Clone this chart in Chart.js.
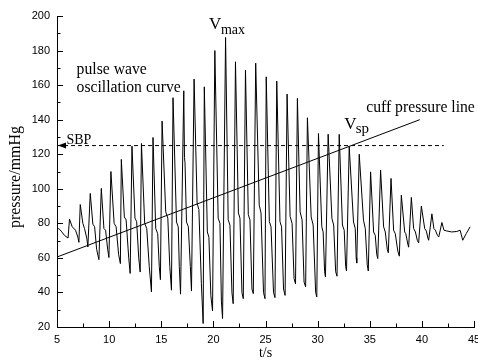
<!DOCTYPE html>
<html lang="en">
<head>
<meta charset="UTF-8">
<title>Pulse wave oscillation curve</title>
<script src="https://cdn.jsdelivr.net/npm/chart.js"></script>
<style>
    * { margin: 0; padding: 0; box-sizing: border-box; }
    html, body { width: 478px; height: 360px; overflow: hidden; background: #fff; }
    .chart-box { position: relative; width: 482px; height: 360px; }
</style>
</head>
<body>
<div class="chart-box"><canvas id="bpChart"></canvas></div>
<script>
// pulse wave oscillation curve (t in s, pressure in mmHg)
const pulseT = [
    5.00, 5.17, 5.40, 5.72, 6.06,
    6.20, 6.46, 6.78, 7.00, 7.10,
    7.23, 7.48, 7.64, 7.87, 7.96,
    8.19, 8.44, 8.61, 8.80, 9.02,
    9.25, 9.50, 9.66, 9.86, 9.98,
    10.17, 10.48, 10.67, 10.91, 11.08,
    11.17, 11.46, 11.63, 11.88, 12.02,
    12.19, 12.48, 12.64, 12.84, 12.98,
    13.10, 13.41, 13.61, 13.85, 14.06,
    14.21, 14.47, 14.66, 14.81, 14.92,
    15.08, 15.43, 15.63, 15.82, 15.98,
    16.13, 16.46, 16.63, 16.73, 16.85,
    17.16, 17.23, 17.28, 17.42, 17.60, 17.79, 17.90,
    18.15, 18.44, 18.61, 18.85, 19.02,
    19.13, 19.42, 19.57, 19.76, 19.92,
    20.14, 20.46, 20.63, 20.77, 20.88,
    21.17, 21.42, 21.59, 21.78, 21.90,
    22.12, 22.40, 22.55, 22.74, 22.87,
    23.08, 23.35, 23.51, 23.70, 23.83,
    24.06, 24.40, 24.57, 24.81, 24.95,
    25.07, 25.37, 25.53, 25.77, 25.91,
    26.08, 26.39, 26.54, 26.73, 26.88,
    27.07, 27.36, 27.55, 27.74, 27.88,
    28.06, 28.32, 28.51, 28.70, 28.85,
    29.02, 29.38, 29.57, 29.81, 29.92,
    30.08, 30.40, 30.53, 30.67, 30.75,
    31.01, 31.37, 31.54, 31.73, 31.86,
    32.07, 32.38, 32.55, 32.69, 32.77,
    33.03, 33.44, 33.61, 33.70, 33.75,
    33.99, 34.40, 34.57, 34.76, 34.86,
    35.08, 35.37, 35.53, 35.67, 35.77,
    36.04, 36.33, 36.49, 36.68, 36.78,
    37.04, 37.29, 37.45, 37.69, 37.84,
    38.03, 38.35, 38.46, 38.65, 38.73,
    38.99, 39.21, 39.38, 39.57, 39.69,
    39.95, 40.27, 40.43, 40.58, 40.65,
    40.96, 41.15, 41.30, 41.49, 41.62,
    41.92, 42.12, 42.38, 42.87, 43.35, 43.67, 43.92, 44.25, 44.63
];
const pulseP = [
    76.4, 77, 75.5, 73, 71.5,
    82.4, 78, 76, 72, 69,
    90.9, 80, 77, 71, 66.3,
    97.3, 79.5, 78, 65, 59,
    100.2, 77, 76, 65, 60.2,
    110, 80, 78, 62, 56.7,
    117, 83.7, 82, 60, 51,
    124.7, 83, 81, 60, 51.8,
    126.2, 80, 77, 55, 40.3,
    129.7, 77, 74, 55, 47.4,
    139.2, 86.6, 83, 55, 41.3,
    152.7, 80.8, 78, 55, 39,
    156.7, 118, 115, 80.8, 78, 55, 40.8,
    163.5, 91.5, 88, 45, 22,
    159, 75, 72, 38, 29.3,
    180, 83, 80, 35, 24.9,
    187.6, 82, 79, 40, 33.5,
    173.5, 86, 83, 40, 36.4,
    168.7, 85, 82, 42, 39.3,
    172.7, 90.5, 86, 40, 36.4,
    164.8, 81, 78, 40, 37,
    162.3, 81, 78, 42, 38.3,
    154.8, 84, 80, 48, 45,
    152.3, 86.6, 82, 46, 43.2,
    141.1, 83.7, 79, 40, 37.4,
    132, 78, 75, 52, 49,
    131.6, 82.8, 79, 52, 49.4,
    131.5, 79, 76, 55, 52.4,
    124.5, 80.8, 77, 60, 57,
    120, 81.8, 77, 56, 52.4,
    109.8, 75, 73, 62, 59.6,
    110.8, 78, 75, 65, 63,
    106, 76, 74, 64, 61,
    96.3, 75, 74, 68, 66.2,
    95, 77, 75, 70, 68.7,
    90, 77, 75.5, 71.5, 70.2,
    85.5, 77, 76, 73, 72.1,
    80.5, 76, 75.6, 75, 75.3, 76, 70.2, 74, 78
];

// cuff pressure line and SBP level
const cuffT = [5, 39.8];
const cuffP = [60.5, 140];
const sbpT = [5, 42.1];
const sbpP = [125, 125];

// axis ticks
const xTicks = [5, 10, 15, 20, 25, 30, 35, 40, 45];
const yTicks = [20, 40, 60, 80, 100, 120, 140, 160, 180, 200];

const serif = "'Liberation Serif', 'Times New Roman', serif";
const sans = "'Liberation Sans', Arial, sans-serif";

function toPoints(xs, ys) {
    return xs.map((v, i) => ({ x: v, y: ys[i] }));
}

// inward major/minor ticks, arrow, y title and text labels
const decorPlugin = {
    id: 'decor',
    afterDraw(chart) {
        const { ctx, chartArea, scales: { x, y } } = chart;
        ctx.save();
        ctx.strokeStyle = '#000';
        ctx.fillStyle = '#000';
        ctx.lineWidth = 1;

        ctx.beginPath();
        for (let i = 0; i < xTicks.length; i++) {
            const px = Math.round(x.getPixelForValue(xTicks[i])) + 0.5;
            ctx.moveTo(px, chartArea.bottom);
            ctx.lineTo(px, chartArea.bottom - 6);
            if (i < xTicks.length - 1) {
                const mx = Math.round(x.getPixelForValue((xTicks[i] + xTicks[i + 1]) / 2)) + 0.5;
                ctx.moveTo(mx, chartArea.bottom);
                ctx.lineTo(mx, chartArea.bottom - 3.5);
            }
        }
        for (let i = 0; i < yTicks.length; i++) {
            const py = Math.round(y.getPixelForValue(yTicks[i])) + 0.5;
            ctx.moveTo(chartArea.left, py);
            ctx.lineTo(chartArea.left + 6, py);
            if (i < yTicks.length - 1) {
                const my = Math.round(y.getPixelForValue((yTicks[i] + yTicks[i + 1]) / 2)) + 0.5;
                ctx.moveTo(chartArea.left, my);
                ctx.lineTo(chartArea.left + 3.5, my);
            }
        }
        ctx.stroke();

        // SBP arrow head
        const ax = chartArea.left + 1;
        const ay = y.getPixelForValue(sbpP[0]);
        ctx.beginPath();
        ctx.moveTo(ax, ay);
        ctx.lineTo(ax + 8, ay - 3);
        ctx.lineTo(ax + 8, ay + 3);
        ctx.closePath();
        ctx.fill();

        // y axis title
        ctx.save();
        ctx.translate(16, 177);
        ctx.rotate(-Math.PI / 2);
        ctx.font = '16px ' + serif;
        ctx.textAlign = 'center';
        ctx.textBaseline = 'middle';
        ctx.fillText('pressure/mmHg', 0, 0);
        ctx.restore();

        const text = (str, t, p, size) => {
            ctx.font = size + 'px ' + serif;
            ctx.textAlign = 'left';
            ctx.textBaseline = 'alphabetic';
            ctx.fillText(str, x.getPixelForValue(t), y.getPixelForValue(p));
        };
        text('pulse wave', 6.88, 166.4, 15.7);
        text('oscillation curve', 6.88, 156, 15.7);
        text('SBP', 5.91, 126.1, 14);
        text('V', 19.57, 192.5, 17);
        text('max', 20.72, 189.3, 14);
        text('V', 32.55, 134.8, 17);
        text('sp', 33.65, 132.2, 15);
        text('cuff pressure line', 34.66, 144.4, 15.7);
        ctx.restore();
    }
};

new Chart(document.getElementById('bpChart'), {
    type: 'line',
    data: {
        datasets: [
            {
                label: 'pulse wave oscillation curve',
                data: toPoints(pulseT, pulseP),
                borderColor: '#000',
                borderWidth: 1,
                pointRadius: 0,
                tension: 0
            },
            {
                label: 'cuff pressure line',
                data: toPoints(cuffT, cuffP),
                borderColor: '#000',
                borderWidth: 1,
                pointRadius: 0
            },
            {
                label: 'SBP',
                data: toPoints(sbpT, sbpP),
                borderColor: '#000',
                borderWidth: 1,
                borderDash: [4, 3],
                pointRadius: 0
            }
        ]
    },
    options: {
        responsive: true,
        maintainAspectRatio: false,
        animation: false,
        layout: { padding: { top: 16, right: 8, left: 0, bottom: 0 } },
        plugins: {
            legend: { display: false },
            tooltip: { enabled: false }
        },
        scales: {
            x: {
                type: 'linear',
                min: 5,
                max: 45,
                afterBuildTicks: s => { s.ticks = xTicks.map(v => ({ value: v })); },
                afterFit: s => { s.height = 33; s.paddingLeft = 0; s.paddingRight = 0; },
                ticks: { color: '#000', font: { family: sans, size: 11 }, padding: 6, maxRotation: 0 },
                grid: { drawOnChartArea: false, drawTicks: false },
                border: { color: '#000', width: 1 },
                title: {
                    display: true,
                    text: 't/s',
                    color: '#000',
                    font: { family: serif, size: 14, lineHeight: 1 },
                    padding: { top: 0, bottom: 0 }
                }
            },
            y: {
                min: 20,
                max: 200,
                afterBuildTicks: s => { s.ticks = yTicks.map(v => ({ value: v })); },
                afterFit: s => { s.width = 57; },
                ticks: { color: '#000', font: { family: sans, size: 11 }, padding: 7 },
                grid: { drawOnChartArea: false, drawTicks: false },
                border: { color: '#000', width: 1 }
            }
        }
    },
    plugins: [decorPlugin]
});
</script>
</body>
</html>
